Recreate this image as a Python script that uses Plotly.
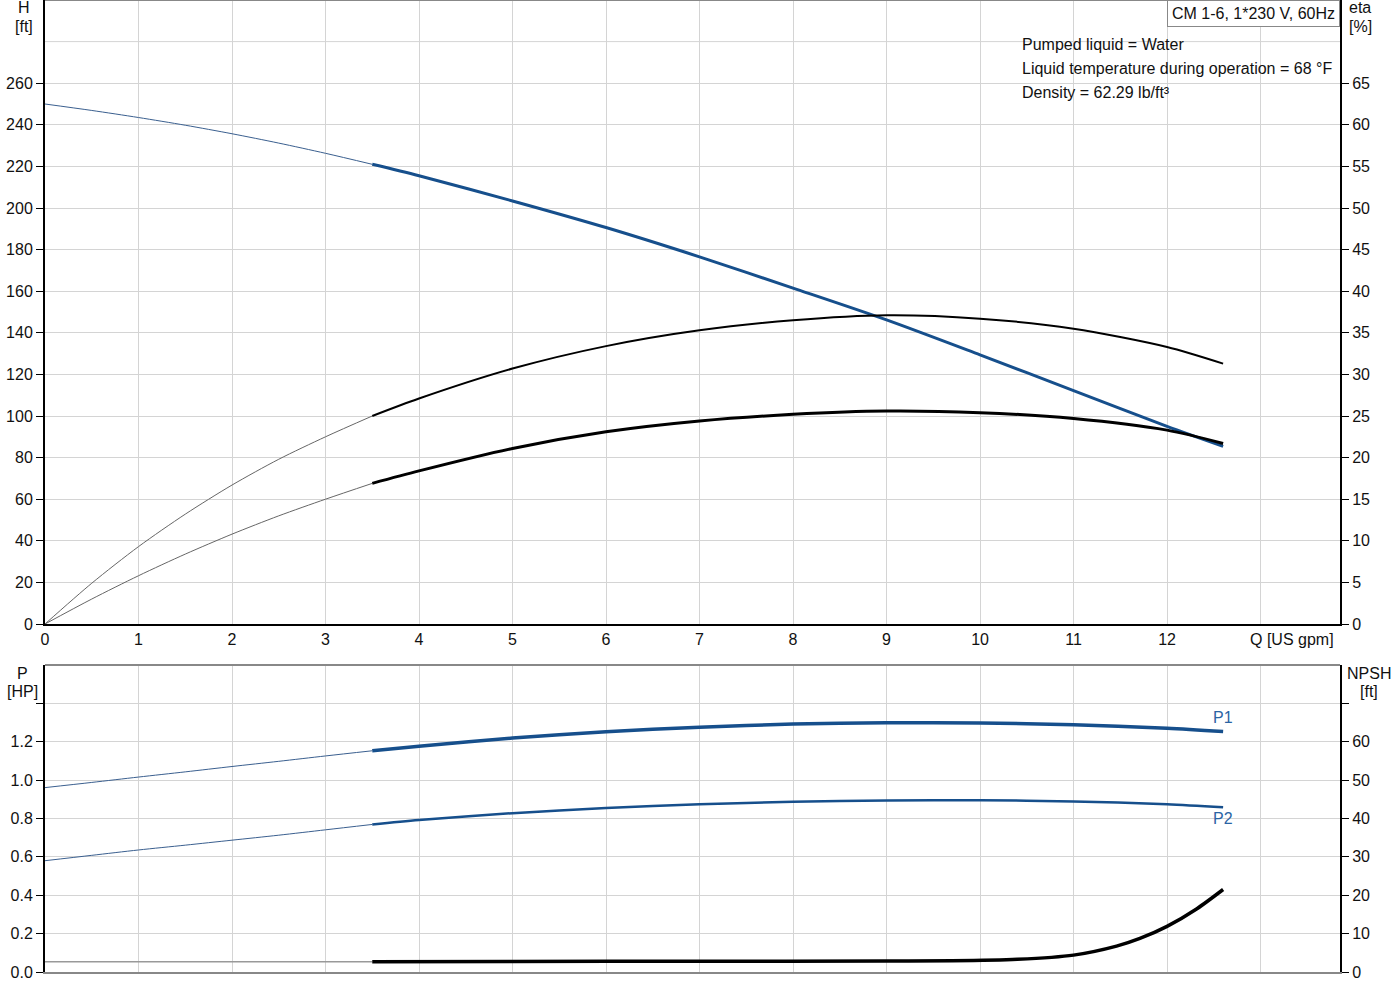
import plotly.graph_objects as go

# ---------------- data ----------------
q = [0, 0.5, 1, 1.5, 2, 2.5, 3, 3.5, 4, 5, 6, 7, 8, 9, 10, 11, 12, 12.6]
head_ft = [250, 246.9, 243.5, 239.8, 235.7, 231.2, 226.3, 221, 215.5, 203.4, 190.6, 176.5, 161.5, 146.2, 129.4, 112.2, 95.0, 85.4]
eta_pump = [0, 4.9, 9.3, 13.2, 16.7, 19.8, 22.5, 25.0, 27.1, 30.7, 33.4, 35.3, 36.5, 37.1, 36.7, 35.5, 33.3, 31.3]
eta_total = [0, 3.0, 5.8, 8.4, 10.8, 13.0, 15.0, 16.9, 18.4, 21.1, 23.1, 24.4, 25.2, 25.6, 25.4, 24.7, 23.3, 21.7]
p1_hp = [0.961, 0.988, 1.016, 1.043, 1.071, 1.098, 1.126, 1.153, 1.177, 1.219, 1.252, 1.276, 1.292, 1.299, 1.298, 1.289, 1.270, 1.253]
p2_hp = [0.580, 0.608, 0.636, 0.661, 0.687, 0.713, 0.741, 0.769, 0.792, 0.828, 0.855, 0.874, 0.887, 0.894, 0.895, 0.889, 0.874, 0.858]
q_npsh = [0, 3.5, 5, 7, 9, 9.7, 10.4, 11.0, 11.46, 11.71, 12.0, 12.32, 12.6]
npsh_ft = [2.7, 2.7, 2.75, 2.8, 2.85, 2.9, 3.3, 4.4, 6.75, 8.75, 11.9, 16.5, 21.5]

q_start = 3.5  # start of the operating range (thick lines)

x_ticks = list(range(0, 14))
x_ticktext = [str(v) for v in range(0, 13)] + [""]
h_ticks = list(range(0, 261, 20))
eta_ticks = list(range(0, 66, 5))
p_ticks = [0.0, 0.2, 0.4, 0.6, 0.8, 1.0, 1.2, 1.4]
p_ticktext = ["0.0", "0.2", "0.4", "0.6", "0.8", "1.0", "1.2", ""]
npsh_ticks = [0, 10, 20, 30, 40, 50, 60, 70]
npsh_ticktext = ["0", "10", "20", "30", "40", "50", "60", ""]

info_lines = ["Pumped liquid = Water",
              "Liquid temperature during operation = 68 °F",
              "Density = 62.29 lb/ft³"]
title_box = "CM 1-6, 1*230 V, 60Hz"

# ---------------- helpers ----------------
def split(xs, ys, x0):
    i = xs.index(x0)
    return (xs[:i + 1], ys[:i + 1]), (xs[i:], ys[i:])

BLUE = "#164f8c"
LBLUE = "#2a64a4"
FONT = "Liberation Sans, Arial, sans-serif"
FS = 16

fig = go.Figure()

def add_curve(xs, ys, xa, ya, color, thin_color, thick_w, thin_w=1.0):
    (tx, ty), (kx, ky) = split(xs, ys, q_start)
    fig.add_trace(go.Scatter(x=tx, y=ty, xaxis=xa, yaxis=ya, mode="lines",
                             line=dict(color=thin_color, width=thin_w, shape="spline", smoothing=0.8),
                             hoverinfo="skip", showlegend=False))
    fig.add_trace(go.Scatter(x=kx, y=ky, xaxis=xa, yaxis=ya, mode="lines",
                             line=dict(color=color, width=thick_w, shape="spline", smoothing=0.8),
                             hoverinfo="skip", showlegend=False))

# top panel
add_curve(q, head_ft, "x", "y", BLUE, "#3a5f8f", 3)
add_curve(q, eta_pump, "x", "y2", "#000000", "#666666", 2)
add_curve(q, eta_total, "x", "y2", "#000000", "#666666", 3)
# bottom panel
add_curve(q, p1_hp, "x2", "y3", BLUE, "#3a5f8f", 3.5)
add_curve(q, p2_hp, "x2", "y3", BLUE, "#3a5f8f", 2.5)
add_curve(q_npsh, npsh_ft, "x2", "y4", "#000000", "#999999", 3.5, 1.5)

# ---------------- layout ----------------
W, H = 1400, 1000
ml, mr, mt, mb = 45, 60, 0, 28
pw, ph = W - ml - mr, H - mt - mb

def px_x(px):
    return (px - ml) / pw

def px_y(py):
    return (H - mb - py) / ph

top_dom = [px_y(624), 1.0]
bot_dom = [0.0, px_y(665)]

GRID = "#d4d4d4"
tickfont = dict(family=FONT, size=FS, color="#111111")

common_x = dict(range=[0, 13.85], tickvals=x_ticks, ticktext=x_ticktext,
                showgrid=True, gridcolor=GRID, gridwidth=1, zeroline=False,
                ticks="", tickfont=tickfont, fixedrange=True)

fig.update_layout(
    width=W, height=H,
    margin=dict(l=ml, r=mr, t=mt, b=mb),
    paper_bgcolor="white", plot_bgcolor="white",
    font=dict(family=FONT, size=FS, color="#111111"),
    xaxis=dict(**common_x, anchor="y", domain=[0, 1], showline=True,
               linecolor="#000000", linewidth=2),
    xaxis2=dict(**common_x, anchor="y3", domain=[0, 1], showline=True,
                linecolor="#888888", linewidth=1.5, showticklabels=False),
    yaxis=dict(domain=top_dom, range=[0, 300], tickvals=h_ticks,
               showgrid=True, gridcolor=GRID, zeroline=False, showline=True,
               linecolor="#000000", linewidth=2, ticks="outside", ticklen=7,
               tickcolor="#000000", tickfont=tickfont, anchor="x"),
    yaxis2=dict(overlaying="y", side="right", range=[0, 75], tickvals=eta_ticks,
                showgrid=False, zeroline=False, showline=True, linecolor="#000000",
                linewidth=2, ticks="outside", ticklen=7, tickcolor="#000000",
                tickfont=tickfont, anchor="x"),
    yaxis3=dict(domain=bot_dom, range=[0, 1.6], tickvals=p_ticks, ticktext=p_ticktext,
                showgrid=True, gridcolor=GRID, zeroline=False, showline=True,
                linecolor="#000000", linewidth=2, ticks="outside", ticklen=7,
                tickcolor="#000000", tickfont=tickfont, anchor="x2"),
    yaxis4=dict(overlaying="y3", side="right", range=[0, 80], tickvals=npsh_ticks,
                ticktext=npsh_ticktext, showgrid=False, zeroline=False, showline=True,
                linecolor="#000000", linewidth=2, ticks="outside", ticklen=7,
                tickcolor="#000000", tickfont=tickfont, anchor="x2"),
    showlegend=False,
)

# extra grid line (no tick label) and top borders
shapes = [
    dict(type="line", xref="paper", yref="y", x0=0, x1=1, y0=280, y1=280,
         line=dict(color=GRID, width=1), layer="below"),
    dict(type="line", xref="paper", yref="paper", x0=0, x1=1, y0=1, y1=1,
         line=dict(color="#888888", width=2), layer="above"),
    dict(type="line", xref="paper", yref="paper", x0=0, x1=1, y0=bot_dom[1], y1=bot_dom[1],
         line=dict(color="#888888", width=2), layer="above"),
]
fig.update_layout(shapes=shapes)

ann = []
afont = dict(family=FONT, size=FS, color="#111111")

def label(text, px, py):
    ann.append(dict(xref="paper", yref="paper", x=px_x(px), y=px_y(py), xanchor="center",
                    yanchor="middle", text=text, showarrow=False, font=afont))

label("H", 24, 8)
label("[ft]", 24, 26)
label("eta", 1360, 8)
label("[%]", 1360, 26)
label("P", 22, 673)
label("[HP]", 22, 691)
label("NPSH", 1369, 673)
label("[ft]", 1369, 691)
label("Q [US gpm]", 1292, 639)

ann.append(dict(xref="paper", yref="paper", x=1.0, y=1.0, xanchor="right", yanchor="top",
                text=title_box, showarrow=False, font=afont, bgcolor="white",
                bordercolor="#888888", borderwidth=1, borderpad=4))
for i, t in enumerate(info_lines):
    ann.append(dict(xref="paper", yref="paper", x=px_x(1020), y=px_y(44 + 24 * i),
                    xanchor="left", yanchor="middle", text=t, showarrow=False, font=afont))
ann.append(dict(xref="x2", yref="y3", x=q[-1], y=p1_hp[-1], xanchor="center", yanchor="bottom",
                yshift=4, text="P1", showarrow=False, font=dict(family=FONT, size=FS, color=LBLUE)))
ann.append(dict(xref="x2", yref="y3", x=q[-1], y=p2_hp[-1], xanchor="center", yanchor="top",
                yshift=-1, text="P2", showarrow=False, font=dict(family=FONT, size=FS, color=LBLUE)))
fig.update_layout(annotations=ann)

fig.write_html("out.html", config={"displayModeBar": False},
               post_script="document.body.style.margin='0';")
